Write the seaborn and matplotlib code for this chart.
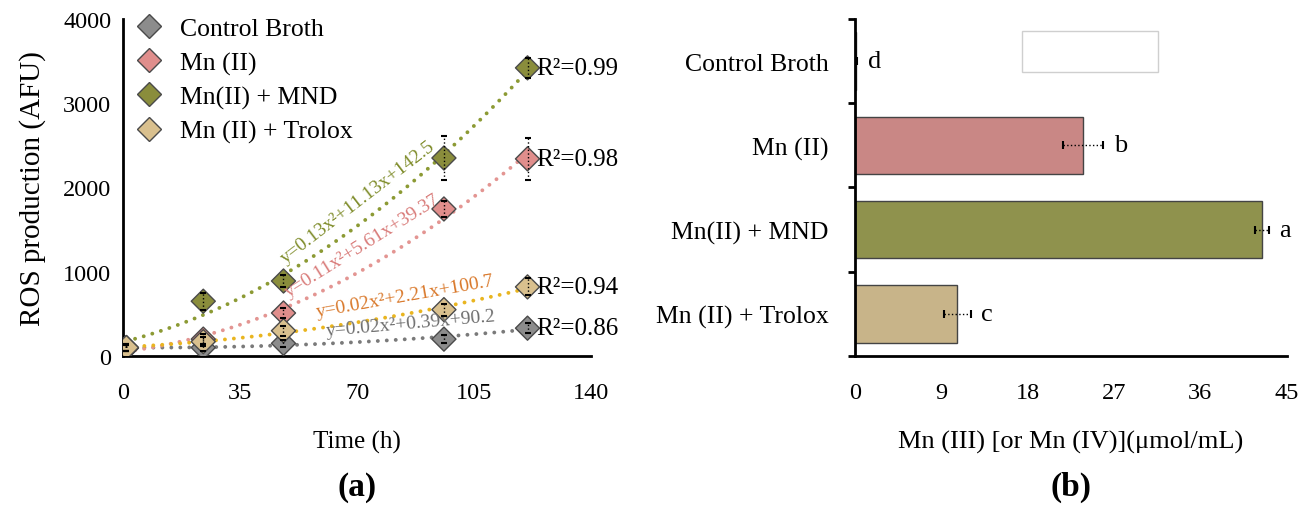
import numpy as np
import pandas as pd
import matplotlib
matplotlib.use("Agg")
import matplotlib.pyplot as plt
from matplotlib.patches import Rectangle
import seaborn as sns

# ---------------- data ----------------
groups = ["Control Broth", "Mn (II)", "Mn(II) + MND", "Mn (II) + Trolox"]
time_h = [1, 24, 48, 96, 121]
ros_control = [95, 100, 150, 200, 330]
ros_mn = [95, 200, 510, 1745, 2340]
ros_mnd = [100, 650, 890, 2350, 3420]
ros_trolox = [100, 170, 300, 550, 820]
err_control = [40, 40, 40, 50, 60]
err_mn = [40, 60, 60, 100, 250]
err_mnd = [40, 100, 70, 260, 120]
err_trolox = [40, 50, 60, 70, 100]
equations = ["y=0.02x²+0.39x+90.2", "y=0.11x²+5.61x+39.37",
             "y=0.13x²+11.13x+142.5", "y=0.02x²+2.21x+100.7"]
r2_labels = ["R²=0.86", "R²=0.98", "R²=0.99", "R²=0.94"]

mn3_values = [0.15, 23.8, 42.4, 10.7]
mn3_err = [0.1, 2.1, 0.7, 1.4]
letters = ["d", "b", "a", "c"]

# ---------------- style ----------------
sns.set_theme(style="white")
plt.rcParams["font.family"] = ["Liberation Serif", "DejaVu Serif"]
plt.rcParams["mathtext.fontset"] = "dejavuserif"
for k in ("text.color", "axes.labelcolor", "xtick.color", "ytick.color"):
    plt.rcParams[k] = "black"

marker_cols = ["#8c8c8c", "#e08e8c", "#8a8d3c", "#d9c08e"]
line_cols = ["#7a7a7a", "#e39592", "#8c9a34", "#e9b520"]
eq_cols = ["#6e6e6e", "#d97c7a", "#7f8c2a", "#d9782a"]
bar_cols = ["#c98785", "#c98785", "#8f924d", "#c8b489"]

fig = plt.figure(figsize=(13.09, 5.06), dpi=100)
axA = fig.add_axes([0.094, 0.2945, 0.3575, 0.666])
axB = fig.add_axes([0.653, 0.2945, 0.330, 0.666])

series = [ros_control, ros_mn, ros_mnd, ros_trolox]
errs = [err_control, err_mn, err_mnd, err_trolox]

rows = []
for g, vals in zip(groups, series):
    for t, v in zip(time_h, vals):
        rows.append({"group": g, "time": t, "ros": v})
df = pd.DataFrame(rows)

# fitted dotted curves
for g, vals, c in zip(groups, series, line_cols):
    sns.regplot(x=np.array(time_h, float), y=np.array(vals, float), order=2, ci=None,
                scatter=False, truncate=True, ax=axA,
                line_kws=dict(color=c, lw=2.8, ls=(0, (0.01, 2.3)),
                              dash_capstyle="round", zorder=2))

sns.scatterplot(data=df, x="time", y="ros", hue="group", hue_order=groups,
                palette=marker_cols, marker="D", s=150, edgecolor="#4a4a4a",
                linewidth=1.0, ax=axA, zorder=3, legend=True)

for vals, e in zip(series, errs):
    eb = axA.errorbar(time_h, vals, yerr=e, fmt="none", ecolor="black", elinewidth=1.0,
                      capsize=2, capthick=1.5, zorder=4)
    for lc in eb[2]:
        lc.set_linestyle(":")

axA.set_xlim(0, 140)
axA.set_ylim(0, 4000)
axA.set_xticks([0, 35, 70, 105, 140])
axA.set_yticks([0, 1000, 2000, 3000, 4000])
axA.set_xlabel("Time (h)", fontsize=18, labelpad=19)
axA.set_ylabel("ROS production (AFU)", fontsize=21, labelpad=12)

leg = axA.legend(loc="upper left", frameon=False, fontsize=18.5, markerscale=1.0,
                 handletextpad=0.4, handlelength=1.6, labelspacing=0.42,
                 borderaxespad=0.0, bbox_to_anchor=(-0.01, 1.035))

for vals, lab in zip(series, r2_labels):
    axA.annotate(lab, (time_h[-1], vals[-1]), xytext=(6, 0), textcoords="offset points",
                 fontsize=18, va="center", ha="left", annotation_clip=False)

# equation labels (x, y, rotation) in group order
eq_pos = [(61, 245, 5), (49.5, 700, 32), (48.7, 1110, 37.5), (58, 470, 10)]
for eq, c, (x, y, rot) in zip(equations, eq_cols, eq_pos):
    axA.text(x, y, eq, color=c, fontsize=14, rotation=rot, rotation_mode="anchor",
             ha="left", va="baseline")

# ---------------- panel b ----------------
dfb = pd.DataFrame({"group": groups, "val": mn3_values})
sns.barplot(data=dfb, y="group", x="val", order=groups, hue="group", hue_order=groups,
            palette=bar_cols, orient="h", width=0.68, edgecolor="#444444",
            linewidth=1.0, ax=axB, legend=False, errorbar=None, saturation=1)
eb = axB.errorbar(mn3_values, np.arange(len(groups)), xerr=mn3_err, fmt="none",
                  ecolor="black", elinewidth=1.0, capsize=3, capthick=1.5, zorder=4)
for lc in eb[2]:
    lc.set_linestyle(":")
for i, (v, e, l) in enumerate(zip(mn3_values, mn3_err, letters)):
    axB.text(v + e + 1.1, i, l, fontsize=19, va="center", ha="left")

axB.set_xlim(0, 45)
axB.set_ylim(3.5, -0.5)
axB.set_xticks([0, 9, 18, 27, 36, 45])
axB.set_yticks([-0.5, 0.5, 1.5, 2.5, 3.5], minor=True)
axB.set_yticks(range(4))
axB.set_yticklabels(groups)
axB.set_ylabel("")
axB.set_xlabel("Mn (III) [or Mn (IV)](μmol/mL)", fontsize=19, labelpad=19)
axB.add_patch(Rectangle((0.388, 0.843), 0.313, 0.12, transform=axB.transAxes,
                        facecolor="white", edgecolor="#cfcfcf", lw=1.0, zorder=5))

for ax in (axA, axB):
    for s in ("top", "right"):
        ax.spines[s].set_visible(False)
    for s in ("left", "bottom"):
        ax.spines[s].set_color("black")
        ax.spines[s].set_linewidth(2)
    ax.tick_params(axis="both", which="major", direction="out", width=2, length=5,
                   color="black", labelsize=17.5)
    ax.tick_params(axis="x", which="major", pad=14)
axB.tick_params(axis="y", which="major", length=0, pad=19, labelsize=18.5)
axB.tick_params(axis="y", which="minor", length=5, width=2, direction="out", left=True)

fig.text(0.2727, 0.036, "(a)", fontsize=24, fontweight="bold", ha="center", va="center")
fig.text(0.818, 0.036, "(b)", fontsize=24, fontweight="bold", ha="center", va="center")

fig.savefig("out.png", dpi=100, facecolor="white")
